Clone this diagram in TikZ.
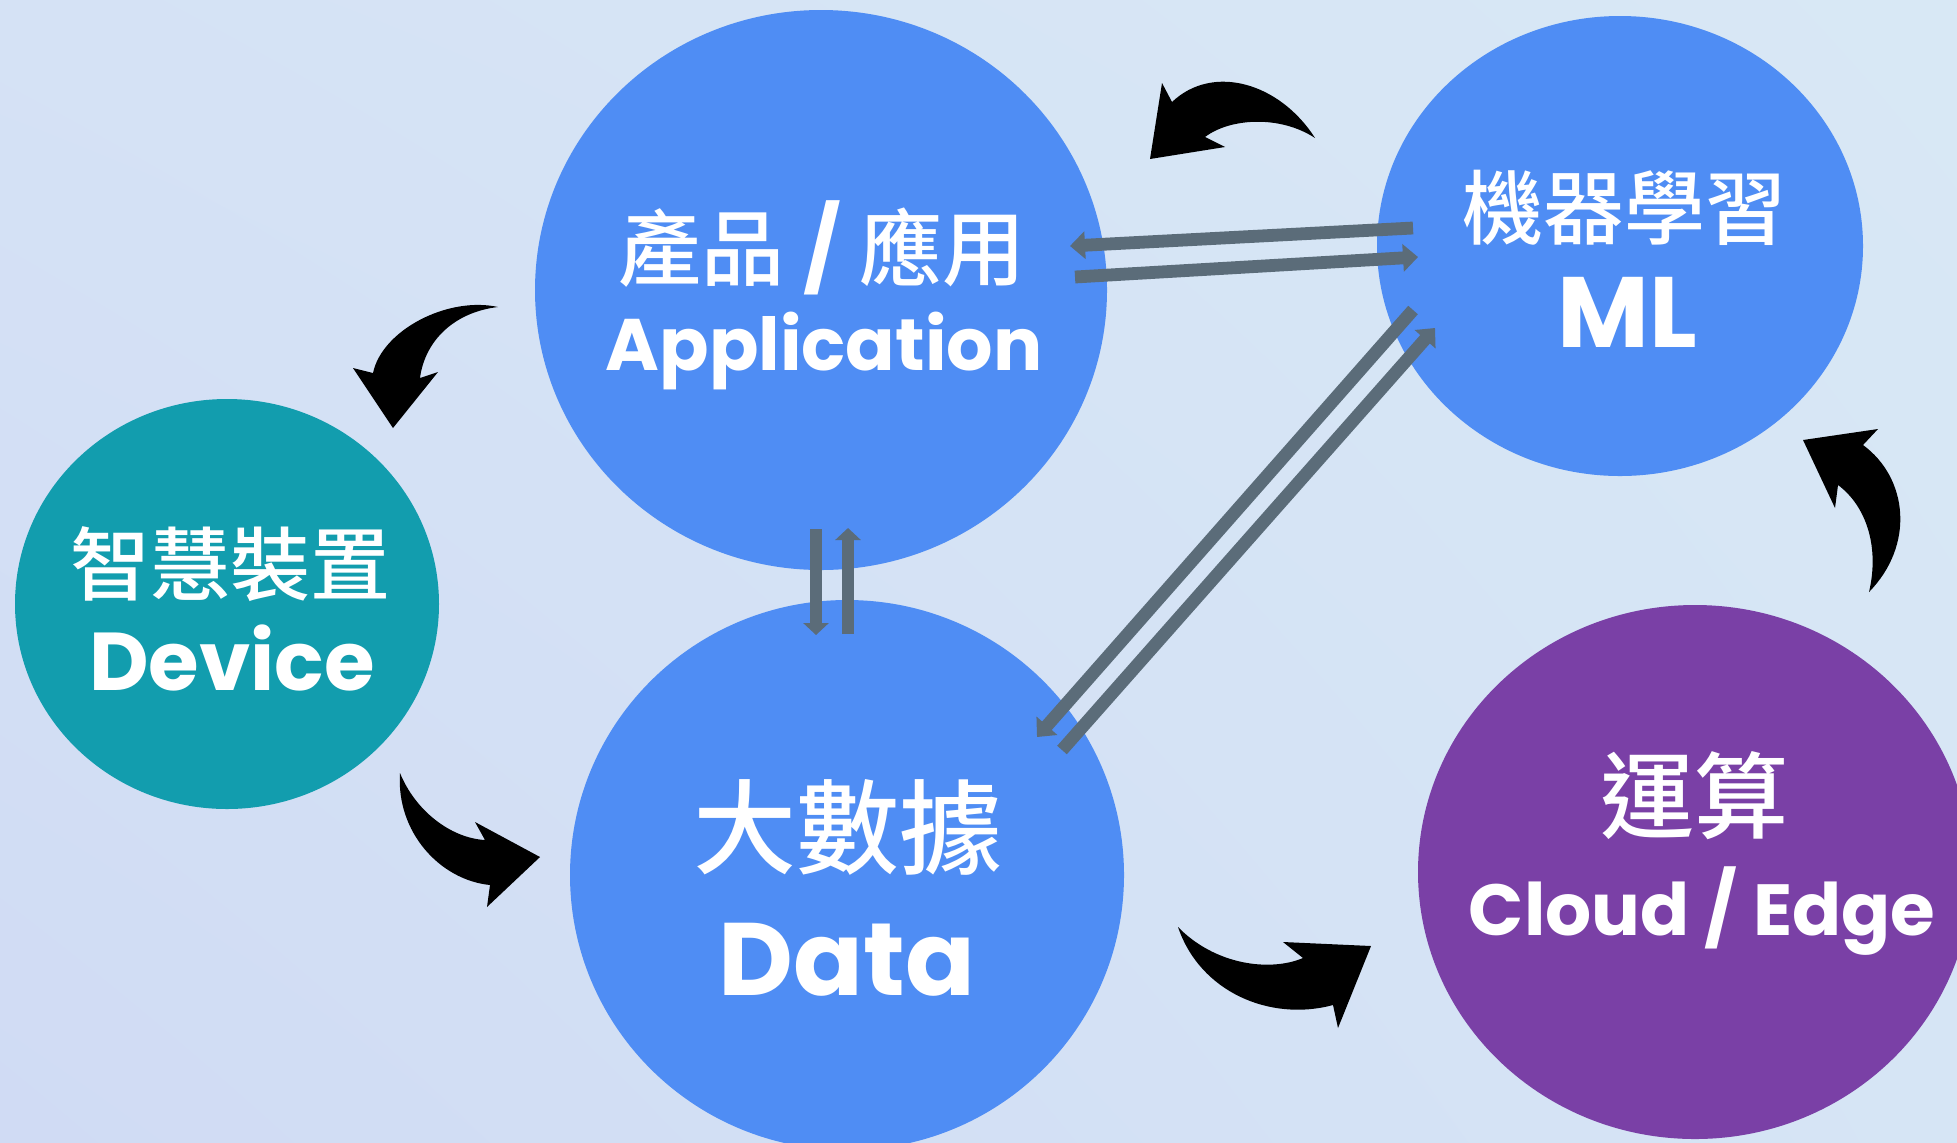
\documentclass[tikz,border=0pt]{standalone}
\usepackage{fontspec}
\usetikzlibrary{shapes.geometric,arrows.meta,shadings}
\newfontfamily\latfont{Poppins}
\newfontfamily\cjkfont{Noto Sans CJK TC}[UprightFont=* Medium]
\definecolor{bluec}{HTML}{4F8DF4}
\definecolor{tealc}{HTML}{129DAE}
\definecolor{purplec}{HTML}{7A40A6}
\definecolor{grayc}{HTML}{5B6C79}
\definecolor{bgA}{HTML}{D0DBF4}
\definecolor{bgB}{HTML}{D8E8F5}
\definecolor{bgC}{HTML}{D5E2F5}
\definecolor{bgD}{HTML}{D6E5F5}
\tikzset{
  bubble/.style={ellipse, inner sep=0pt, draw=none},
  zh/.style={text=white, inner sep=0pt, anchor=center},
  en/.style={text=white, inner sep=0pt, anchor=base},
  garrow/.style={draw=grayc, line width=6.4pt, -{Triangle[width=13.5pt,length=7.5pt]}},
  varrow/.style={draw=grayc, line width=6.2pt, -{Triangle[width=12.5pt,length=6pt]}},
  bcurve/.style={fill=black, draw=none}
}
\begin{document}
\begin{tikzpicture}[x=0.5pt,y=-0.5pt]
\useasboundingbox (0,0) rectangle (1957,1142);
\clip (0,0) rectangle (1957,1142);
\shade[lower left=bgA, upper right=bgB, upper left=bgC, lower right=bgD] (0,0) rectangle (1957,1142);
% bubbles
\node[bubble, fill=bluec, minimum width=286pt, minimum height=280pt] (app) at (821,290) {};
\node[bubble, fill=bluec, minimum width=243pt, minimum height=230pt] (ml) at (1620,246) {};
\node[bubble, fill=tealc, minimum width=212pt, minimum height=205pt] (dev) at (227,604) {};
\node[bubble, fill=bluec, minimum width=277pt, minimum height=275pt] (data) at (847,875) {};
\node[bubble, fill=purplec, minimum width=277pt, minimum height=267pt] (cloud) at (1695,872) {};
% connector end points
\coordinate (h1s) at (1413,228); \coordinate (h1e) at (1070,246);
\coordinate (h2s) at (1075,277); \coordinate (h2e) at (1418,257);
\coordinate (v1s) at (816,529);  \coordinate (v1e) at (816,635);
\coordinate (v2s) at (848,634);  \coordinate (v2e) at (848,528);
\coordinate (d1s) at (1413,310); \coordinate (d1e) at (1037,737);
\coordinate (d2s) at (1062,750); \coordinate (d2e) at (1435,328);
% gray arrows
\draw[garrow] (h1s) -- (h1e);
\draw[garrow] (h2s) -- (h2e);
\draw[varrow] (v1s) -- (v1e);
\draw[varrow] (v2s) -- (v2e);
\draw[garrow] (d1s) -- (d1e);
\draw[garrow] (d2s) -- (d2e);
% black curved arrows
\fill[bcurve] (1315,138) .. controls (1280,83) and (1213,63) .. (1172,102)
  -- (1162,83) -- (1150,159) -- (1225,147) -- (1205,137)
  .. controls (1230,118) and (1280,115) .. (1315,138) -- cycle;
\fill[bcurve] (498,307) .. controls (448,296) and (382,330) .. (373,373)
  -- (353,368) -- (393,428) -- (438,372) -- (420,378)
  .. controls (425,340) and (455,312) .. (498,307) -- cycle;
\fill[bcurve] (400,773) .. controls (396,832) and (440,880) .. (490,885)
  -- (487,907) -- (540,857) -- (475,822) -- (485,840)
  .. controls (450,838) and (415,810) .. (400,773) -- cycle;
\fill[bcurve] (1178,927) .. controls (1200,992) and (1270,1022) .. (1333,1005)
  -- (1338,1028) -- (1371,946) -- (1283,942) -- (1303,958)
  .. controls (1270,972) and (1215,965) .. (1178,927) -- cycle;
\fill[bcurve] (1869,592) .. controls (1915,545) and (1908,478) .. (1863,445)
  -- (1878,429) -- (1803,440) -- (1835,508) -- (1838,485)
  .. controls (1865,505) and (1880,545) .. (1869,592) -- cycle;
% texts
\node[zh, font=\cjkfont\fontsize{41.5}{50}\selectfont] (appzh) at (822,248) {產品 {\latfont\bfseries /} 應用};
\node[en, font=\latfont\bfseries\fontsize{36.5}{42}\selectfont] (appen) at (824,370) {Application};
\node[zh, font=\cjkfont\fontsize{40.5}{48}\selectfont] (mlzh) at (1624,208) {機器學習};
\node[en, font=\latfont\bfseries\fontsize{50}{56}\selectfont] (mlen) at (1627,347) {ML};
\node[zh, font=\cjkfont\fontsize{40}{48}\selectfont] (devzh) at (230,564) {智慧裝置};
\node[en, font=\latfont\bfseries\fontsize{41}{48}\selectfont] (deven) at (232,690) {Device};
\node[zh, font=\cjkfont\fontsize{51.5}{60}\selectfont] (datazh) at (848,827) {大數據};
\node[en, font=\latfont\bfseries\fontsize{51.5}{60}\selectfont] (dataen) at (847,995) {Data};
\node[zh, font=\cjkfont\fontsize{47}{55}\selectfont] (cloudzh) at (1694,796) {運算};
\node[en, font=\latfont\bfseries\fontsize{36.2}{42}\selectfont] (clouden) at (1702,935) {Cloud / Edge};
\end{tikzpicture}
\end{document}
